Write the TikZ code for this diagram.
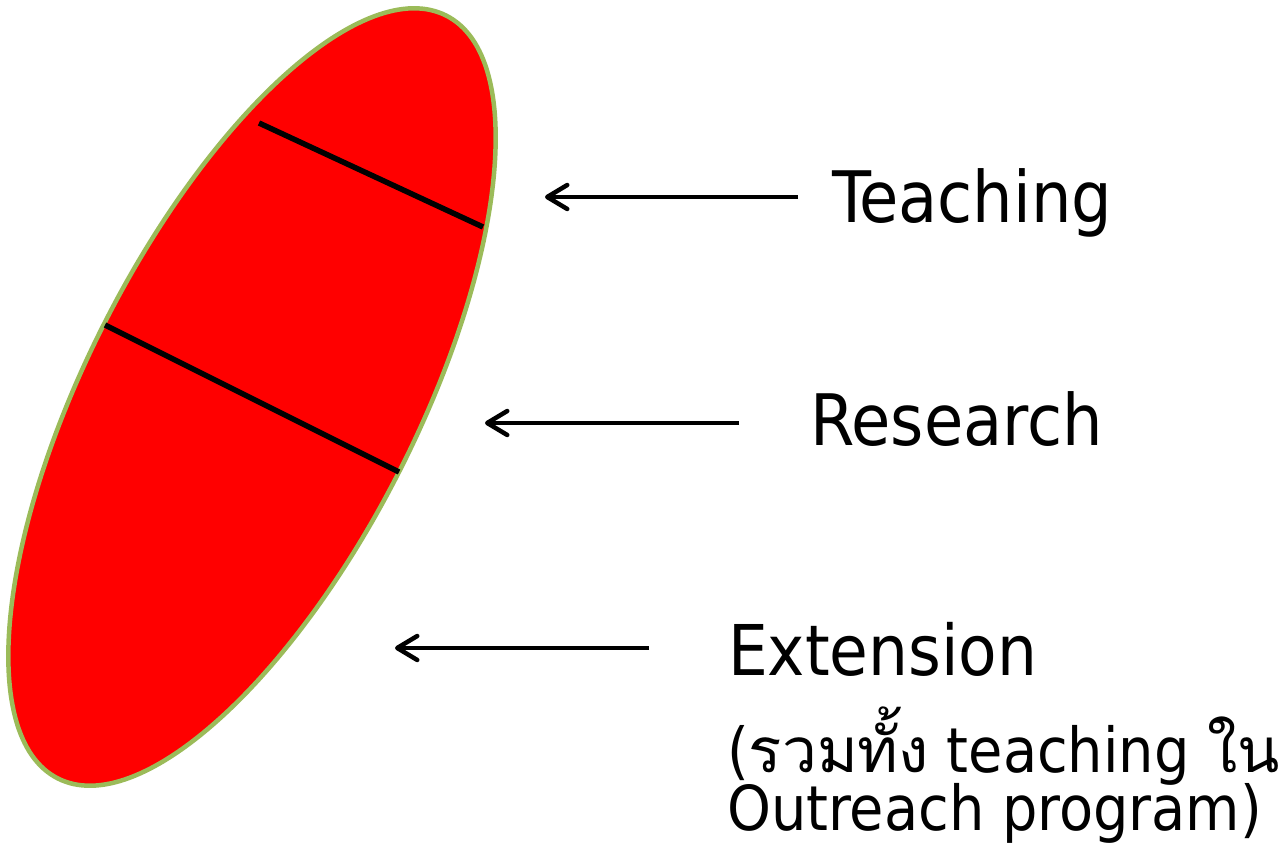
\documentclass[tikz,border=0pt]{standalone}
\usepackage{fontspec}
\setmainfont{DejaVu Sans Condensed}
\newfontfamily\thaifont[Script=Thai]{Loma}
\usetikzlibrary{arrows.meta}
\definecolor{ellred}{RGB}{255,0,0}
\definecolor{ellgreen}{RGB}{155,187,89}
\newcommand\mytightlines{\lineskiplimit=-200pt\relax\lineskip=0pt\relax}
\begin{document}
\begin{tikzpicture}[x=1pt,y=-1pt,
  biglabel/.style={anchor=base west,inner sep=0pt,font=\fontsize{71}{84}\selectfont},
  sublabel/.style={anchor=base west,inner sep=0pt,align=left,
    font=\fontsize{62}{58}\selectfont\mytightlines},
  pointer/.style={line width=4.5pt,-{Straight Barb[length=20pt,width=24pt,round]}},
  divider/.style={line width=5.5pt,black},
  body/.style={fill=ellred,draw=ellgreen,line width=4.5pt}
]
\useasboundingbox (0,0) rectangle (1282,843);
% ellipse
\coordinate (c) at (252,397);
\draw[body,rotate around={63:(c)}] (c) ellipse [x radius=428pt, y radius=165pt];
% dividers
\coordinate (d1a) at (259,123);
\coordinate (d1b) at (483,227);
\coordinate (d2a) at (105,325);
\coordinate (d2b) at (399,472);
\draw[divider] (d1a) -- (d1b);
\draw[divider] (d2a) -- (d2b);
% labels
\node[biglabel] (teach) at (832,222) {Teaching};
\node[biglabel] (research) at (810,445) {Research};
\node[biglabel,font=\fontsize{70}{84}\selectfont] (ext) at (728,675) {Extension};
\node[sublabel] (ext2) at (727,830) {({\thaifont รวมทั้ง} teaching {\thaifont ใน}\\Outreach program)};
% arrows
\coordinate (ta) at (798,197);
\coordinate (tb) at (545,197);
\coordinate (ra) at (739,423);
\coordinate (rb) at (485,423);
\coordinate (ea) at (649,648);
\coordinate (eb) at (395,648);
\draw[pointer] (ta) -- (tb);
\draw[pointer] (ra) -- (rb);
\draw[pointer] (ea) -- (eb);
\end{tikzpicture}
\end{document}
